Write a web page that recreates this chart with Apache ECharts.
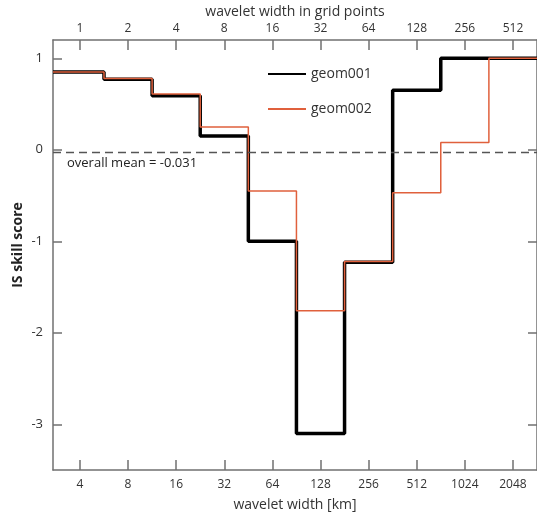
<!DOCTYPE html>
<html>
<head>
<meta charset="utf-8">
<script src="https://cdn.jsdelivr.net/npm/echarts@6/dist/echarts.min.js"></script>
<style>html,body{margin:0;padding:0;background:#fff;}#c{width:537px;height:512px;}</style>
</head>
<body>
<div id="c"></div>
<script>
var kmLabels = ['4','8','16','32','64','128','256','512','1024','2048'];
var gridPointLabels = ['1','2','4','8','16','32','64','128','256','512'];
var geom001 = [0.85, 0.77, 0.59, 0.15, -1.0, -3.1, -1.23, 0.65, 1.0, 1.0];
var geom002 = [0.85, 0.78, 0.61, 0.25, -0.45, -1.76, -1.22, -0.47, 0.08, 1.0];
var overallMean = -0.031;
var yTicks = [-3, -2, -1, 0, 1];

var XMIN = -0.56, XMAX = 9.5;
function stepData(vals) {
  var d = [[XMIN, vals[0]]];
  vals.forEach(function (v, i) { d.push([i, v]); });
  d.push([XMAX, vals[vals.length - 1]]);
  return d;
}
var tickIdx = kmLabels.map(function (_, i) { return i; });
var axisCol = '#707070';
var font = 'Open Sans';
function axLine() { return { show: true, onZero: false, lineStyle: { color: axisCol, width: 1.5 } }; }

var chart = echarts.init(document.getElementById('c'));
chart.setOption({
  animation: false,
  textStyle: { fontFamily: font },
  grid: { left: 53, right: 0, top: 40, bottom: 42, outerBoundsMode: 'none', containLabel: false },
  legend: {
    orient: 'vertical', left: 262, top: 62, itemWidth: 38, itemHeight: 14, itemGap: 21,
    itemStyle: { opacity: 0 },
    textStyle: { fontSize: 14, color: '#333', fontFamily: font },
    data: ['geom001', 'geom002']
  },
  xAxis: [{
    type: 'value', position: 'bottom', min: XMIN, max: XMAX,
    name: 'wavelet width [km]', nameLocation: 'middle', nameGap: 28,
    nameTextStyle: { fontSize: 14, color: '#333' },
    axisLine: axLine(),
    axisTick: { show: true, inside: true, length: 10, customValues: tickIdx, lineStyle: { color: axisCol, width: 1.5 } },
    axisLabel: { customValues: tickIdx, color: '#333', fontSize: 12, margin: 9, formatter: function (v) { return kmLabels[Math.round(v)]; } },
    splitLine: { show: false }
  }, {
    type: 'value', position: 'top', min: XMIN, max: XMAX,
    name: 'wavelet width in grid points', nameLocation: 'middle', nameGap: 21, nameMoveOverlap: false,
    nameTextStyle: { fontSize: 14, color: '#333' },
    axisLine: axLine(),
    axisTick: { show: true, inside: true, length: 10, customValues: tickIdx, lineStyle: { color: axisCol, width: 1.5 } },
    axisLabel: { customValues: tickIdx, color: '#333', fontSize: 12, margin: 5, formatter: function (v) { return gridPointLabels[Math.round(v)]; } },
    splitLine: { show: false }
  }],
  yAxis: [{
    type: 'value', position: 'left', min: -3.5, max: 1.2,
    name: 'IS skill score', nameLocation: 'middle', nameGap: 28, nameMoveOverlap: false,
    nameTextStyle: { fontSize: 14, fontWeight: 'bold', color: '#222', padding: [0, 0, 0, 20] },
    axisLine: axLine(),
    axisTick: { show: true, inside: true, length: 9, customValues: yTicks, lineStyle: { color: axisCol, width: 1.5 } },
    axisLabel: { customValues: yTicks, color: '#333', fontSize: 13, margin: 10 },
    splitLine: { show: false }
  }, {
    type: 'value', position: 'right', min: -3.5, max: 1.2,
    axisLine: axLine(),
    axisTick: { show: true, inside: true, length: 9, customValues: yTicks, lineStyle: { color: axisCol, width: 1.5 } },
    axisLabel: { show: false },
    splitLine: { show: false }
  }],
  series: [{
    name: 'geom001', type: 'line', step: 'middle', symbol: 'none',
    data: stepData(geom001),
    lineStyle: { color: '#000', width: 3.5 }, itemStyle: { color: '#000' },
    markLine: {
      silent: true, symbol: 'none',
      lineStyle: { color: '#555', type: [8, 5], width: 1.3 },
      label: { show: true, position: 'insideStartBottom', formatter: 'overall mean = ' + overallMean, color: '#222', fontSize: 13, distance: [14, 4] },
      data: [{ yAxis: overallMean }]
    },
    z: 2
  }, {
    name: 'geom002', type: 'line', step: 'middle', symbol: 'none',
    data: stepData(geom002),
    lineStyle: { color: '#e0603c', width: 1.5 }, itemStyle: { color: '#e0603c' },
    z: 3
  }]
});
</script>
</body>
</html>
